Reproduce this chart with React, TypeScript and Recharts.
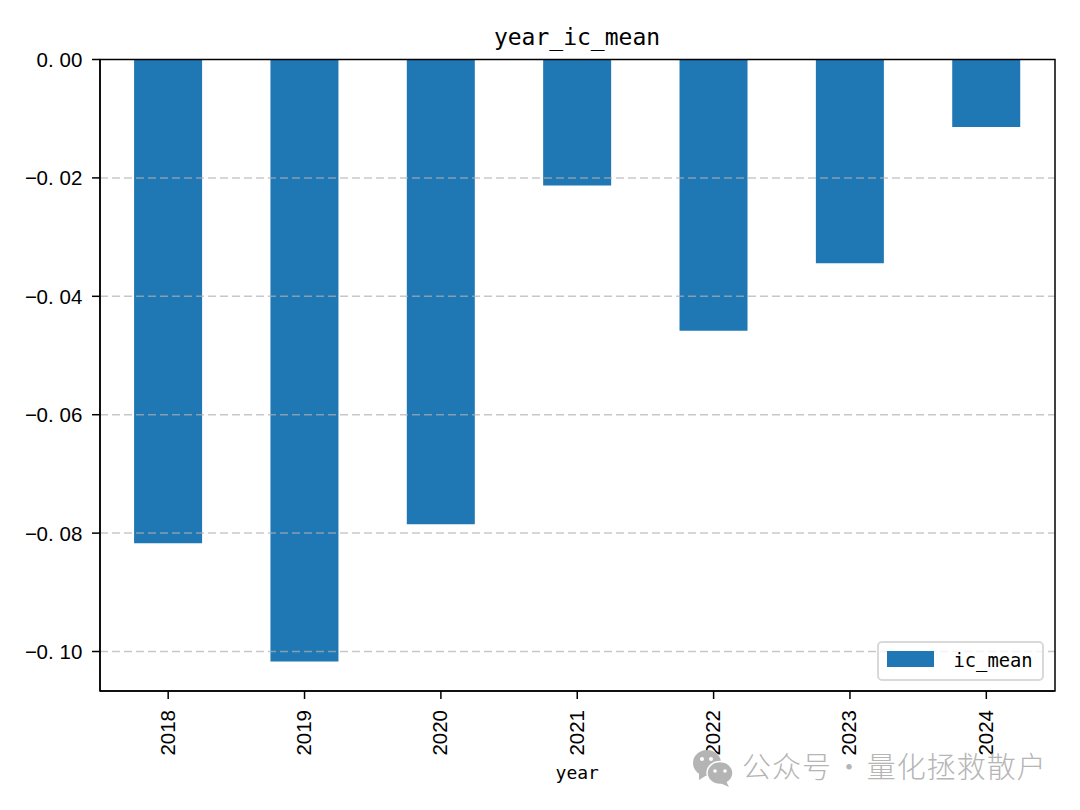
import { Bar, BarChart, Legend, ReferenceLine, XAxis, YAxis } from 'recharts';

const years = ['2018', '2019', '2020', '2021', '2022', '2023', '2024'];
const icMean = [-0.0817, -0.1017, -0.0785, -0.0213, -0.0458, -0.0344, -0.0114];
const yTicks = [0, -0.02, -0.04, -0.06, -0.08, -0.1];
const gridLines = [-0.02, -0.04, -0.06, -0.08, -0.1];
const yDomain = [-0.10667, 0];

const data = years.map((year, i) => ({ year, ic_mean: icMean[i] }));

const MONO = '"DejaVu Sans Mono", monospace';
const SANS = '"Liberation Sans", sans-serif';
const CELL = 11.5;

function YearTick({ x, y, payload }: any) {
  return (
    <text
      transform={`translate(${x + 6.5}, ${y + 9}) rotate(-90)`}
      textAnchor="end"
      fontFamily={SANS}
      fontSize={20.5}
      fill="#000"
    >
      {payload.value}
    </text>
  );
}

// half-width cells, the way the picture's font spaces digits and the dot
function ValueTick({ x, y, payload }: any) {
  const label = payload.value.toFixed(2).replace('-', '\u2212');
  const xs = [...label].map((_: string, i: number) => x - 7.5 - CELL * (label.length - i));
  return (
    <text x={xs.join(' ')} y={y + 7.5} fontFamily={SANS} fontSize={20.5} fill="#000">
      {label}
    </text>
  );
}

function LegendBox() {
  return (
    <div
      style={{
        boxSizing: 'border-box',
        width: 167,
        height: 40,
        border: '2px solid #d9d9d9',
        borderRadius: 5,
        background: 'rgba(255,255,255,0.8)',
        position: 'relative',
      }}
    >
      <div style={{ position: 'absolute', left: 8, top: 8, width: 47, height: 16, background: '#1f77b4' }} />
      <div
        style={{
          position: 'absolute',
          left: 75,
          top: 6,
          fontFamily: MONO,
          fontSize: 18.8,
          lineHeight: '24px',
          color: '#000',
        }}
      >
        ic_mean
      </div>
    </div>
  );
}

function Frame() {
  return (
    <svg width={1080} height={810} style={{ position: 'absolute', left: 0, top: 0, pointerEvents: 'none' }}>
      <rect x={100} y={59.5} width={955} height={631.5} fill="none" stroke="#000" strokeWidth={1.5} />
    </svg>
  );
}

function Watermark() {
  return (
    <div style={{ position: 'absolute', left: 0, top: 0, width: 1080, height: 810, pointerEvents: 'none' }}>
      <svg width={46} height={40} style={{ position: 'absolute', left: 691, top: 748 }}>
        <ellipse cx={16} cy={15} rx={14} ry={13} fill="#b4b4b4" />
        <path d="M8 24 L8 32 L16 27 Z" fill="#b4b4b4" />
        <ellipse cx={29} cy={25} rx={13} ry={11.5} fill="#b4b4b4" stroke="#fff" strokeWidth={1.5} />
        <path d="M35 33 L38 39 L29 35 Z" fill="#b4b4b4" />
        <circle cx={11} cy={11} r={2} fill="#fff" />
        <circle cx={20} cy={11} r={2} fill="#fff" />
        <circle cx={24} cy={23} r={1.8} fill="#fff" />
        <circle cx={34} cy={23} r={1.8} fill="#fff" />
      </svg>
      <div
        style={{
          position: 'absolute',
          left: 742,
          top: 745,
          fontFamily: '"Noto Sans CJK SC", sans-serif',
          fontSize: 29,
          fontWeight: 300,
          lineHeight: '40px',
          letterSpacing: 1,
          wordSpacing: -5,
          color: '#b5b5b5',
          whiteSpace: 'nowrap',
        }}
      >
        公众号 · 量化拯救散户
      </div>
    </div>
  );
}

export default function App() {
  return (
    <div style={{ position: 'absolute', left: 0, top: 0, width: 1080, height: 810, background: '#fff' }}>
      <BarChart
        width={1080}
        height={810}
        data={data}
        barCategoryGap="25%"
        margin={{ top: 59.5, right: 25.5, left: 0, bottom: 0 }}
      >
        <XAxis
          dataKey="year"
          height={119}
          interval={0}
          tick={<YearTick />}
          tickSize={8}
          tickLine={{ stroke: '#000', strokeWidth: 1.5 }}
          axisLine={{ stroke: '#000', strokeWidth: 1.5 }}
          label={{
            value: 'year',
            position: 'insideBottom',
            offset: 31,
            fontFamily: MONO,
            fontSize: 18,
            fill: '#000',
          }}
        />
        <YAxis
          width={100}
          domain={yDomain}
          ticks={yTicks}
          interval={0}
          allowDataOverflow
          tickSize={8}
          tick={<ValueTick />}
          tickLine={{ stroke: '#000', strokeWidth: 1.5 }}
          axisLine={{ stroke: '#000', strokeWidth: 1.5 }}
        />
        <Bar dataKey="ic_mean" fill="#1f77b4" isAnimationActive={false} />
        {gridLines.map((v) => (
          <ReferenceLine
            key={v}
            y={v}
            stroke="#b0b0b0"
            strokeOpacity={0.7}
            strokeWidth={1.5}
            strokeDasharray="8 4"
          />
        ))}
        <text x={577} y={45} textAnchor="middle" fontFamily={MONO} fontSize={23} fill="#000">
          year_ic_mean
        </text>
        <Legend
          layout="vertical"
          align="center"
          verticalAlign="middle"
          content={<LegendBox />}
          wrapperStyle={{ position: 'absolute', left: 876.5, top: 641, width: 167, height: 40 }}
        />
      </BarChart>
      <Frame />
      <Watermark />
    </div>
  );
}
